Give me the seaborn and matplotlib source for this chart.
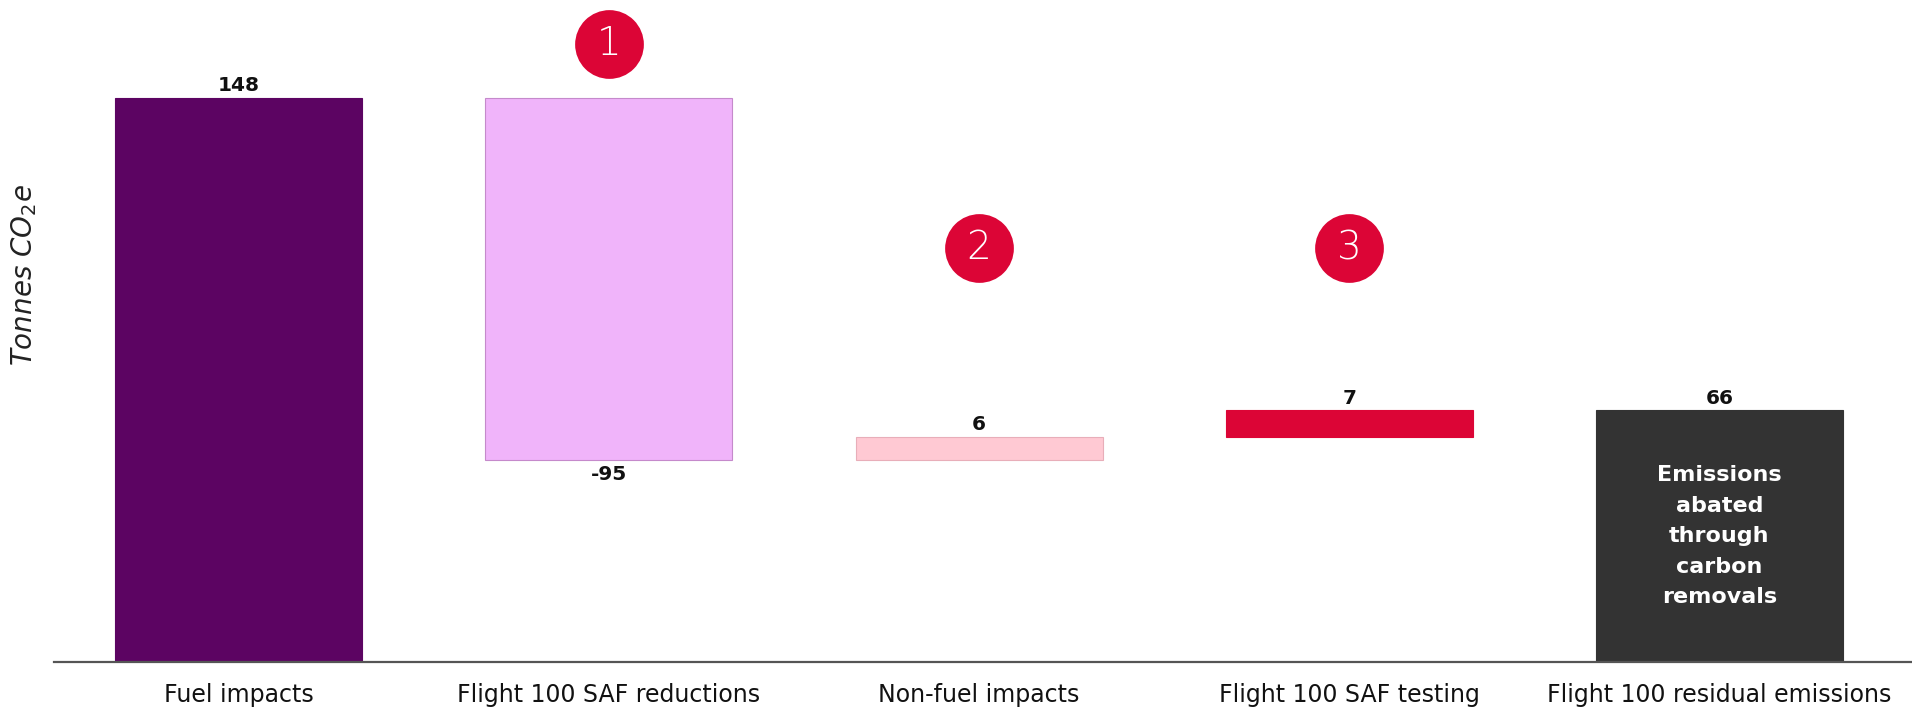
import matplotlib

matplotlib.use("Agg")

import matplotlib.pyplot as plt
import numpy as np
import pandas as pd
import seaborn as sns

# waterfall steps (tonnes CO2e)
categories = [
    "Fuel impacts",
    "Flight 100 SAF reductions",
    "Non-fuel impacts",
    "Flight 100 SAF testing",
    "Flight 100 residual emissions",
]
changes = [148, -95, 6, 7, 66]
is_total = [True, False, False, False, True]
bar_colors = ["#5C0462", "#F0B4FA", "#FFC9D3", "#DC0536", "#333333"]
edge_colors = ["#5C0462", "#C58ACB", "#E8AEB9", "#DC0536", "#333333"]

# numbered callouts: (category index, y value, label)
callout_cat = [1, 2, 3]
callout_y = [162, 108.5, 108.5]
callout_text = ["1", "2", "3"]

residual_note = "Emissions\nabated\nthrough\ncarbon\nremovals"


def waterfall_bottoms(changes, is_total):
    bottoms, running = [], 0
    for ch, tot in zip(changes, is_total):
        if tot:
            bottoms.append(0)
            running = ch
        else:
            bottoms.append(running + min(ch, 0))
            running += ch
    return bottoms


sns.set_style("white")
plt.rcParams["font.family"] = ["DejaVu Sans"]

bottoms = waterfall_bottoms(changes, is_total)
df = pd.DataFrame({"category": categories, "height": np.abs(changes)})

fig = plt.figure(figsize=(19.12, 7.10), dpi=100)
ax = fig.add_axes([0.028, 0.0676, 0.972, 0.9324])

sns.barplot(data=df, x="category", y="height", hue="category", palette=bar_colors,
            width=0.667, legend=False, ax=ax, saturation=1)

for patch, b, ec in zip(ax.patches, bottoms, edge_colors):
    patch.set_y(b)
    patch.set_edgecolor(ec)
    patch.set_linewidth(0.8)

for i, (patch, ch) in enumerate(zip(ax.patches, changes)):
    xc = patch.get_x() + patch.get_width() / 2
    if ch >= 0:
        ax.annotate(f"{ch}", (xc, patch.get_y() + patch.get_height()), xytext=(0, 2),
                    textcoords="offset points", ha="center", va="bottom",
                    fontsize=14.5, fontweight="bold", color="#111111")
    else:
        ax.annotate(f"{ch}", (xc, patch.get_y()), xytext=(0, -4),
                    textcoords="offset points", ha="center", va="top",
                    fontsize=14.5, fontweight="bold", color="#111111")

# note inside residual bar
ax.text(4, 33, residual_note, ha="center", va="center", color="white",
        fontsize=16, fontweight="bold", linespacing=1.65)

# numbered red circles
ax.scatter(callout_cat, callout_y, s=2450, color="#DC0536", zorder=5, linewidths=0)
for cx, cy, t in zip(callout_cat, callout_y, callout_text):
    ax.text(cx, cy, t, ha="center", va="center", color="white", fontsize=28,
            fontweight="light", zorder=6)

ax.set_xlim(-0.5, 4.52)
ax.set_ylim(0, 173.6)
ax.set_yticks([])
ax.set_xlabel("")
ax.set_ylabel("Tonnes CO$_2$e", fontsize=20, fontstyle="italic", color="#222222")
ax.yaxis.set_label_coords(-0.008, 0.585)
ax.tick_params(axis="x", length=0, pad=15, labelsize=17, labelcolor="#111111")

for side in ["top", "right", "left"]:
    ax.spines[side].set_visible(False)
ax.spines["bottom"].set_color("#555555")
ax.spines["bottom"].set_linewidth(1.6)

fig.savefig("out.png", dpi=100)
plt.close(fig)
